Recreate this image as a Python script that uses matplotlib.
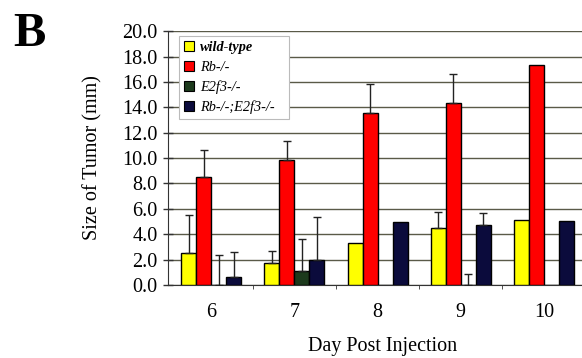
import numpy as np
import matplotlib
matplotlib.use("Agg")
import matplotlib.pyplot as plt
from matplotlib.patches import Patch

days = ["6", "7", "8", "9", "10"]
series = ["wild-type", "Rb-/-", "E2f3-/-", "Rb-/-;E2f3-/-"]

wild_type = [2.5, 1.75, 3.3, 4.5, 5.15]
rb = [8.5, 9.85, 13.55, 14.3, 17.3]
e2f3 = [0.0, 1.1, 0.0, 0.0, 0.0]
rb_e2f3 = [0.65, 2.0, 4.95, 4.75, 5.05]

wild_type_err = [3.0, 0.95, 0.0, 1.25, 0.0]
rb_err = [2.1, 1.5, 2.25, 2.35, 0.0]
e2f3_err = [2.4, 2.5, 0.0, 0.85, 0.0]
rb_e2f3_err = [1.95, 3.35, 0.0, 0.95, 0.0]

values = [wild_type, rb, e2f3, rb_e2f3]
errors = [wild_type_err, rb_err, e2f3_err, rb_e2f3_err]
colors = ["#ffff00", "#ff0000", "#1c3a1c", "#0b0b3c"]

plt.rcParams["font.family"] = ["Liberation Serif", "DejaVu Serif"]

fig = plt.figure(figsize=(5.82, 3.58), dpi=100)
ax = fig.add_axes([0.289, 0.204, 0.711, 0.709])

x = np.arange(len(days))
w = 0.18
offsets = (np.arange(4) - 1.5) * w

for vals, errs, col, off in zip(values, errors, colors, offsets):
    ax.bar(x + off, vals, width=w, color=col, edgecolor="black",
           linewidth=1.0, zorder=3)
    errs_arr = np.array(errs)
    mask = errs_arr > 0
    ax.errorbar((x + off)[mask], np.array(vals)[mask],
                yerr=[np.zeros(mask.sum()), errs_arr[mask]],
                fmt="none", ecolor="#222222", elinewidth=1.0,
                capsize=3, capthick=1.0, zorder=4)

# the plot area runs past the last category on the right
ax.set_xlim(-0.517, 4.456)
ax.set_ylim(0, 20)
ax.set_yticks(np.arange(0, 20.1, 2))
ax.set_yticklabels([f"{v:.1f}" for v in np.arange(0, 20.1, 2)], fontsize=14.5)
ax.set_xticks(x)
ax.set_xticklabels(days, fontsize=14.5)
ax.set_xticks(np.arange(0.5, len(days) - 0.5, 1), minor=True)
ax.tick_params(axis="x", which="major", length=0, pad=13)
ax.tick_params(axis="x", which="minor", length=3, direction="out",
               color="#333333")
ax.tick_params(axis="y", direction="inout", length=7, width=1.0,
               color="#333333", pad=4)

ax.yaxis.grid(True, color="#5a5a48", linewidth=1.0, zorder=0)
ax.set_axisbelow(True)
for side in ("top", "right"):
    ax.spines[side].set_visible(False)
ax.spines["left"].set_color("#333333")
ax.spines["bottom"].set_color("#333333")

ax.set_ylabel("Size of Tumor (mm)", fontsize=14.5, labelpad=14)
ax.set_xlabel("Day Post Injection", fontsize=14.5)
ax.xaxis.set_label_coords(0.517, -0.205)

handles = [Patch(facecolor=c, edgecolor="black", linewidth=0.8)
           for c in colors]
leg = ax.legend(handles, series, loc="upper left",
                bbox_to_anchor=(0.0266, 0.0, 0.266, 0.980), mode="expand",
                fontsize=10.3, handlelength=0.7, handleheight=0.7,
                handletextpad=0.4, labelspacing=0.45, borderpad=0.35,
                borderaxespad=0.0, frameon=True, fancybox=False,
                framealpha=1.0)
leg.get_frame().set_edgecolor("#bbbbbb")
leg.get_frame().set_linewidth(0.8)
for i, t in enumerate(leg.get_texts()):
    t.set_fontstyle("italic")
    if i == 0:
        t.set_fontweight("bold")

fig.text(0.022, 0.966, "B", fontsize=35, fontweight="bold",
         va="top", ha="left")

fig.savefig("out.png", dpi=100)
